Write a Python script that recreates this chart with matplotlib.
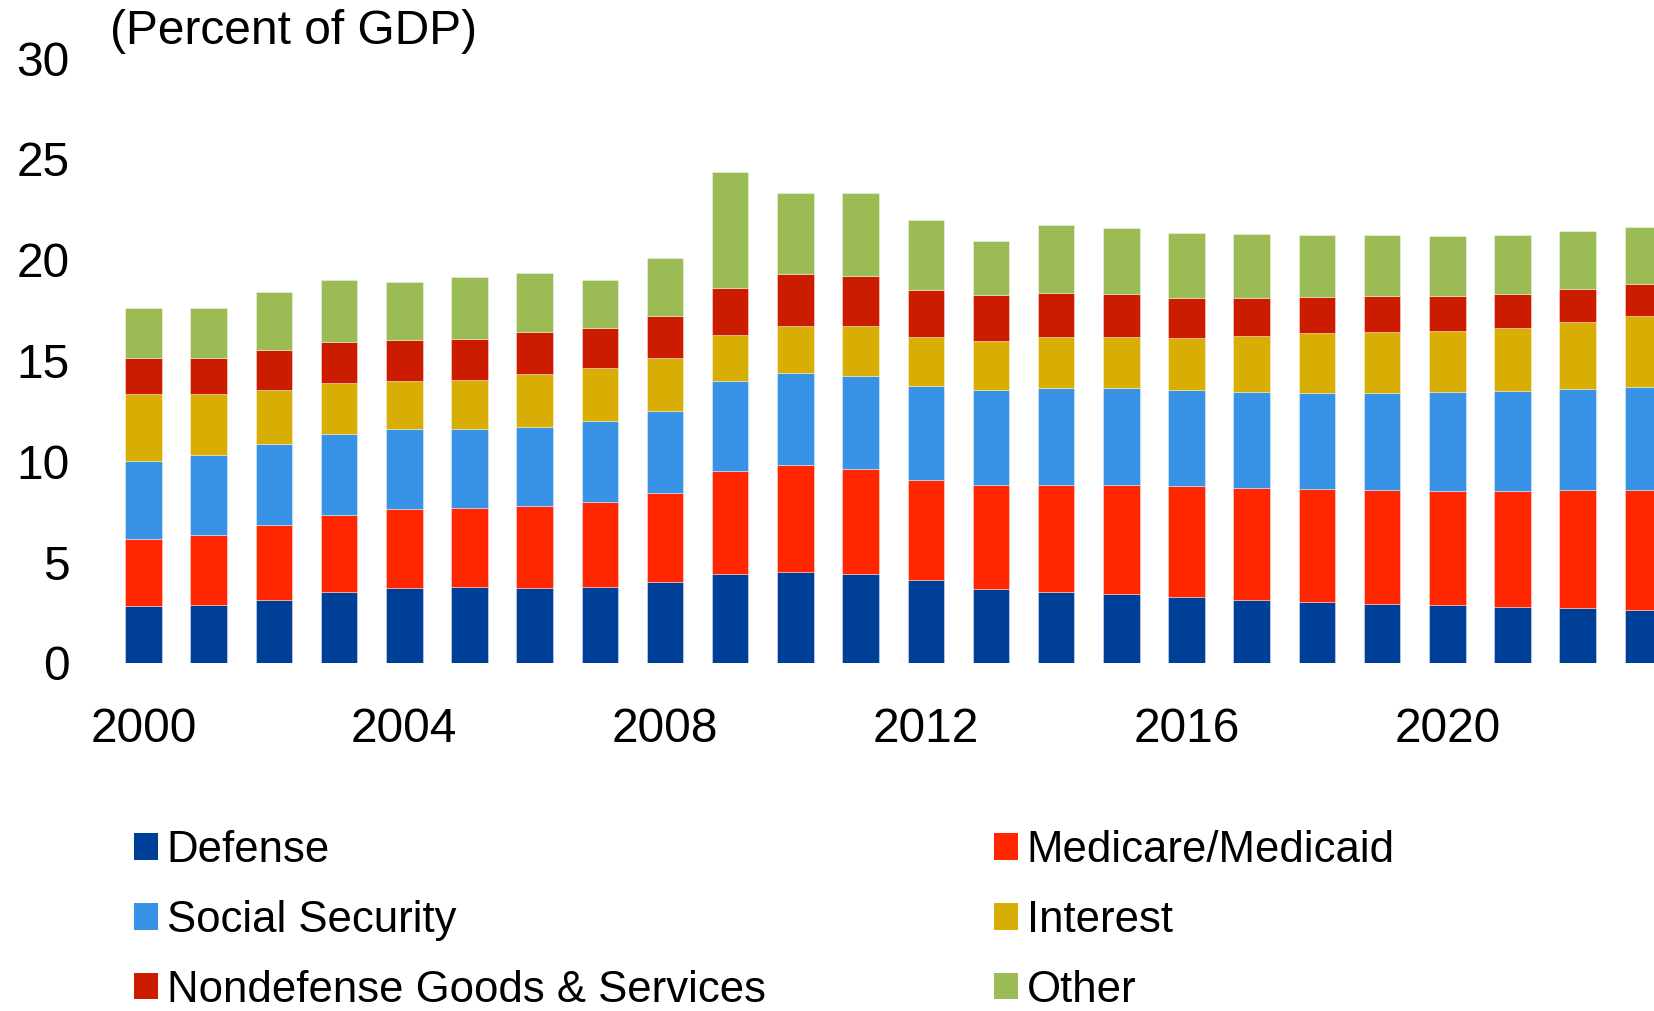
import matplotlib
matplotlib.use("Agg")
import matplotlib.pyplot as plt
import numpy as np
from matplotlib.patches import Patch

plt.rcParams['font.family'] = ['Liberation Sans', 'DejaVu Sans']

years = list(range(2000, 2024))

# percent of GDP, stacked bottom to top
defense = [2.83, 2.88, 3.12, 3.52, 3.72, 3.76, 3.72, 3.76, 4.02, 4.40, 4.52, 4.40,
           4.10, 3.69, 3.51, 3.43, 3.25, 3.13, 3.04, 2.95, 2.87, 2.78, 2.73, 2.64]
medicare = [3.30, 3.45, 3.72, 3.83, 3.94, 3.94, 4.07, 4.24, 4.40, 5.13, 5.29, 5.23,
            4.98, 5.13, 5.31, 5.38, 5.53, 5.56, 5.58, 5.62, 5.64, 5.73, 5.84, 5.93]
social_security = [3.88, 3.96, 4.01, 4.03, 3.92, 3.88, 3.92, 3.98, 4.08, 4.47, 4.57, 4.60,
                   4.64, 4.71, 4.80, 4.84, 4.77, 4.77, 4.79, 4.84, 4.92, 4.99, 5.03, 5.12]
interest = [3.32, 3.04, 2.68, 2.48, 2.39, 2.43, 2.60, 2.65, 2.60, 2.28, 2.35, 2.50,
            2.45, 2.44, 2.55, 2.52, 2.57, 2.75, 2.94, 3.01, 3.04, 3.11, 3.31, 3.51]
nondefense = [1.79, 1.79, 1.99, 2.06, 2.06, 2.08, 2.10, 1.98, 2.10, 2.31, 2.56, 2.47,
              2.33, 2.27, 2.16, 2.12, 1.99, 1.90, 1.81, 1.78, 1.73, 1.68, 1.64, 1.58]
other = [2.46, 2.50, 2.90, 3.07, 2.88, 3.04, 2.95, 2.38, 2.90, 5.76, 4.01, 4.10,
         3.45, 2.70, 3.39, 3.27, 3.20, 3.15, 3.05, 3.01, 2.95, 2.92, 2.88, 2.83]

series = [
    ("Defense", defense, "#003f98"),
    ("Medicare/Medicaid", medicare, "#ff2600"),
    ("Social Security", social_security, "#3892e6"),
    ("Interest", interest, "#d9ae04"),
    ("Nondefense Goods & Services", nondefense, "#cc1c00"),
    ("Other", other, "#9bbb55"),
]

W, H = 1654, 1011
fig = plt.figure(figsize=(W / 100, H / 100), dpi=100)

ax_l, ax_b, ax_t = 114, 663, 58
ax = fig.add_axes([ax_l / W, 1 - ax_b / H, 1 - ax_l / W, (ax_b - ax_t) / H])

step = 65.19
first_center = 143.5
x = np.array(years, dtype=float)
bottom = np.zeros(len(years))
for name, vals, color in series:
    vals = np.array(vals)
    ax.bar(x, vals, width=0.56, bottom=bottom, color=color,
           edgecolor=(1, 1, 1, 0.45), linewidth=0.6, label=name)
    bottom += vals

ax.set_xlim(2000 - (first_center - ax_l) / step, 2000 + (W - first_center) / step)
ax.set_ylim(0, 30)
ax.set_yticks(range(0, 31, 5))
ax.set_xticks(range(2000, 2021, 4))
ax.tick_params(axis='both', length=0, labelsize=34.5)
ax.tick_params(axis='y', pad=32)
ax.tick_params(axis='x', pad=32)
for s in ax.spines.values():
    s.set_visible(False)

fig.text(110 / W, 1 - 31 / H, "(Percent of GDP)", fontsize=34.5, va='center', ha='left')

colors = {n: c for n, _, c in series}
cols = [["Defense", "Social Security", "Nondefense Goods & Services"],
        ["Medicare/Medicaid", "Interest", "Other"]]
for names, xpos in zip(cols, [134, 994]):
    handles = [Patch(facecolor=colors[n], label=n) for n in names]
    fig.legend(handles=handles, loc='upper left',
               bbox_to_anchor=(xpos / W, 1 - 830 / H),
               frameon=False, borderpad=0, borderaxespad=0,
               handlelength=0.55, handleheight=0.55, handletextpad=0.2,
               labelspacing=0.66, fontsize=31.5)

fig.savefig("out.png", dpi=100)
